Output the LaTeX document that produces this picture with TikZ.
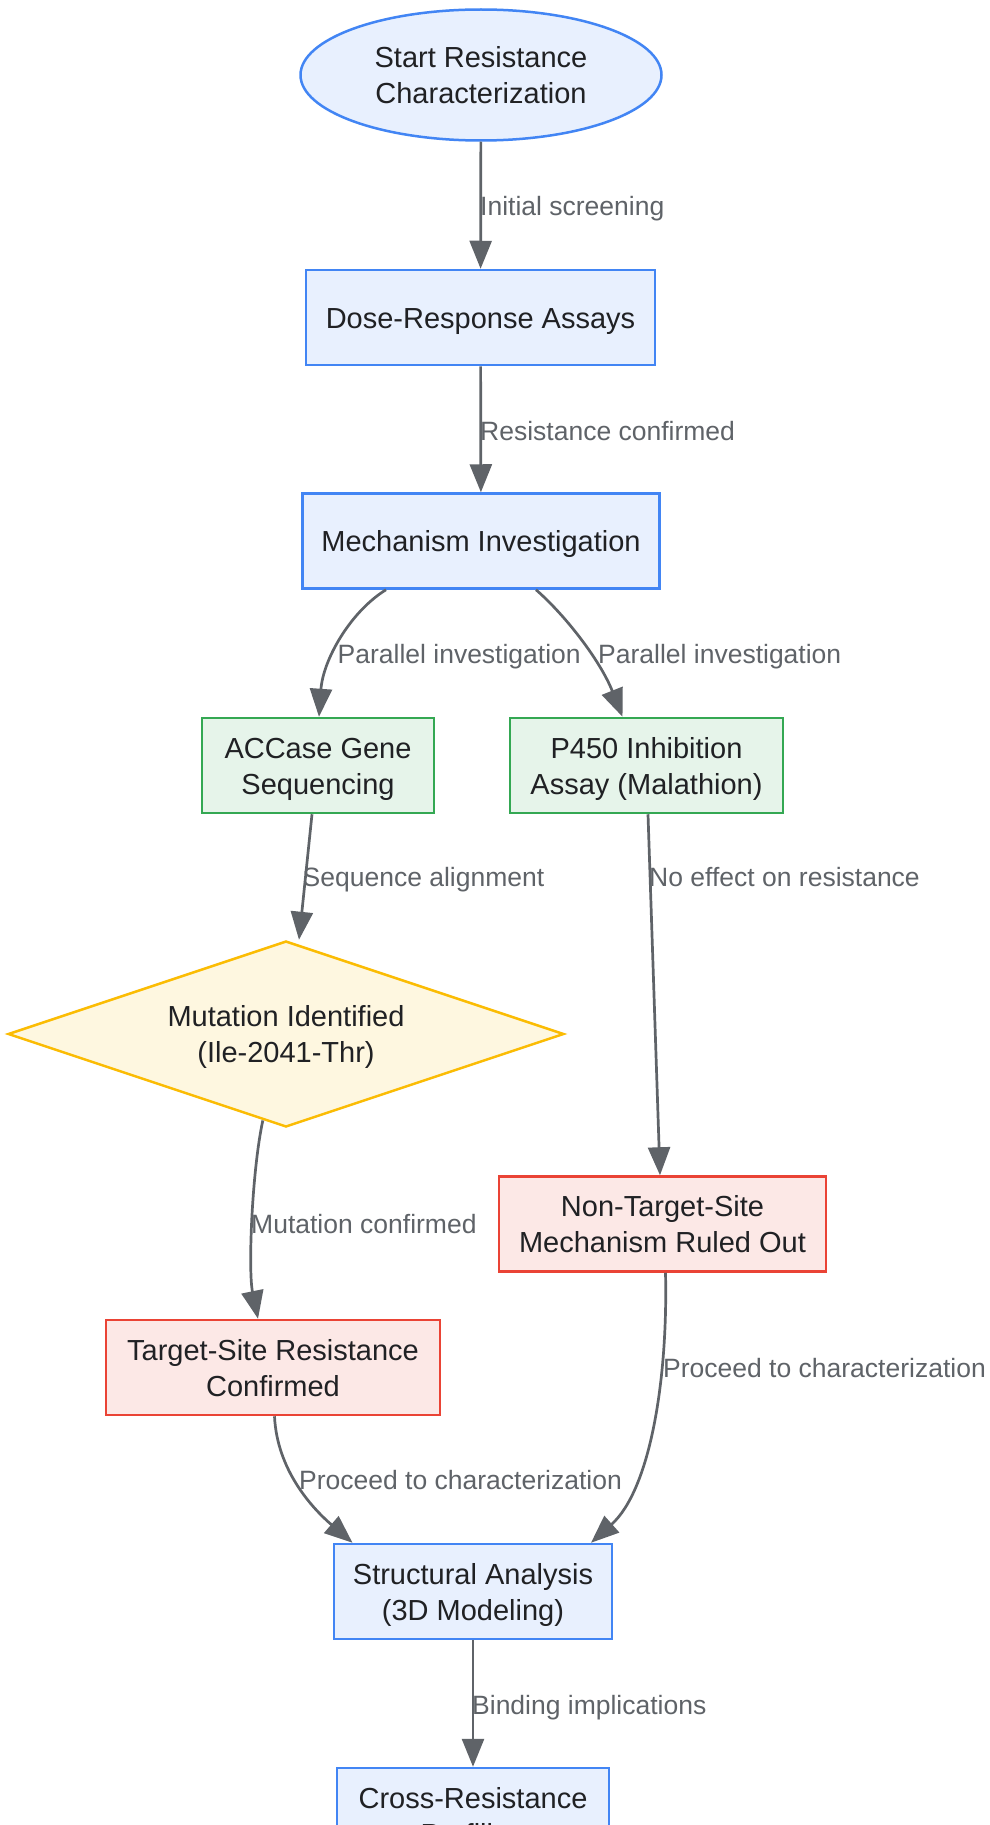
\documentclass[tikz,border=0pt]{standalone}
\usepackage{fontspec}
\setmainfont{Liberation Sans}
\usetikzlibrary{shapes.geometric,arrows.meta}
\definecolor{bluefill}{HTML}{E8F0FE}
\definecolor{bluedraw}{HTML}{4285F4}
\definecolor{greenfill}{HTML}{E6F4EA}
\definecolor{greendraw}{HTML}{34A853}
\definecolor{yellowfill}{HTML}{FEF7E0}
\definecolor{yellowdraw}{HTML}{FBBC04}
\definecolor{redfill}{HTML}{FCE8E6}
\definecolor{reddraw}{HTML}{EA4335}
\definecolor{edgegray}{HTML}{5F6368}
\definecolor{textdark}{HTML}{202124}
\begin{document}
\begin{tikzpicture}[x=1pt,y=-1pt,
  basebox/.style={line width=2.5pt, align=center, text=textdark,
    font=\fontsize{29}{36}\selectfont, inner sep=0pt, text height=57pt, text depth=0pt},
  oneline/.style={text height=21pt, text depth=0pt},
  rbox/.style={basebox, rectangle, minimum height=95pt},
  bluebox/.style={rbox, fill=bluefill, draw=bluedraw},
  greenbox/.style={rbox, fill=greenfill, draw=greendraw},
  redbox/.style={rbox, fill=redfill, draw=reddraw},
  conn/.style={draw=edgegray, line width=2.7pt, -{Triangle[length=28pt,width=22pt]}},
  lab/.style={text=edgegray, font=\fontsize{26.5}{32}\selectfont, inner sep=0pt, anchor=west,
    text height=19pt, text depth=0pt}]
\useasboundingbox (0,0) rectangle (989,1825);
\fill[white] (0,0) rectangle (989,1825);
\clip (0,0) rectangle (989,1825);

% nodes
\node[basebox, ellipse, fill=bluefill, draw=bluedraw, minimum width=361pt, minimum height=131pt]
  (start) at (481,75) {Start Resistance\\Characterization};
\node[bluebox, oneline, minimum width=349pt] (dose) at (480.5,317.5) {Dose-Response Assays};
\node[bluebox, oneline, minimum width=357pt] (mech) at (481,541) {Mechanism Investigation};
\node[greenbox, minimum width=232pt] (accase) at (318,765.5) {ACCase Gene\\Sequencing};
\node[greenbox, minimum width=273pt] (p450) at (646.5,765.5) {P450 Inhibition\\Assay (Malathion)};
\node[basebox, diamond, aspect=3, fill=yellowfill, draw=yellowdraw, minimum width=556pt, minimum height=186pt]
  (mut) at (286,1034) {Mutation Identified\\(Ile-2041-Thr)};
\node[redbox, minimum width=327pt] (nts) at (662.5,1224) {Non-Target-Site\\Mechanism Ruled Out};
\node[redbox, minimum width=334pt] (tsr) at (273,1367.5) {Target-Site Resistance\\Confirmed};
\node[bluebox, minimum width=278pt] (struct) at (473,1591.5) {Structural Analysis\\(3D Modeling)};
\node[bluebox, minimum width=272pt] (cross) at (473,1815.5) {Cross-Resistance\\Profiling};

% connectors
\draw[conn] (start) -- (dose);
\draw[conn] (dose) -- (mech);
\draw[conn] ([xshift=-95pt]mech.south) .. controls (350,612) and (323,660) .. ([xshift=1pt]accase.north);
\draw[conn] ([xshift=55pt]mech.south) .. controls (565,615) and (600,660) .. ([xshift=-24pt]p450.north);
\draw[conn] ([xshift=-6pt]accase.south) -- ([xshift=13pt]mut.north);
\draw[conn] ([xshift=1.5pt]p450.south) -- ([xshift=-2.5pt]nts.north);
\draw[conn] (mut.-105) .. controls (252,1170) and (248,1270) .. ([xshift=-15pt]tsr.north);
\draw[conn] ([xshift=1.5pt]tsr.south) .. controls (277,1470) and (312,1508) .. ([xshift=-120.5pt]struct.north);
\draw[conn] ([xshift=3pt]nts.south) .. controls (668,1380) and (650,1490) .. ([xshift=118pt]struct.north);
\draw[conn] (struct) -- (cross);

% labels
\node[lab] (l1) at (480,206) {Initial screening};
\node[lab] (l2) at (480,430.5) {Resistance confirmed};
\node[lab] (l3) at (337.5,654) {Parallel investigation};
\node[lab] (l4) at (598,654) {Parallel investigation};
\node[lab] (l5) at (302.5,877) {Sequence alignment};
\node[lab] (l6) at (649,877) {No effect on resistance};
\node[lab] (l7) at (251,1224) {Mutation confirmed};
\node[lab] (l8) at (299,1480) {Proceed to characterization};
\node[lab] (l9) at (663,1368) {Proceed to characterization};
\node[lab] (l10) at (472,1704.5) {Binding implications};
\end{tikzpicture}
\end{document}
